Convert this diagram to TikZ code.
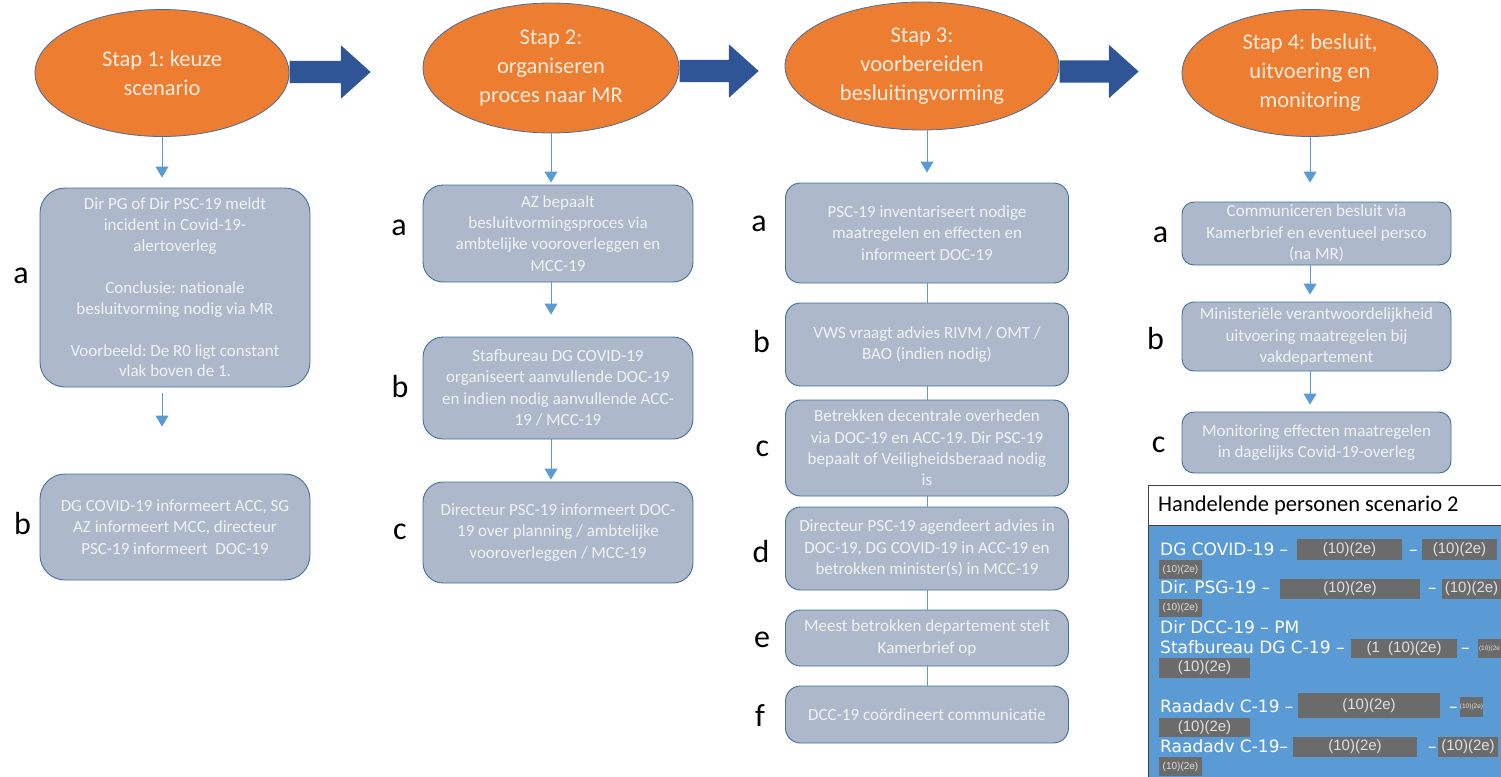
\documentclass[tikz,border=0pt]{standalone}
\usepackage{fontspec}
\setmainfont{Carlito}
\newfontfamily\panelfont{DejaVu Sans}
\newfontfamily\redactfont{Liberation Sans}
\usetikzlibrary{shapes.geometric,shapes.arrows,arrows.meta}
\definecolor{stapfill}{HTML}{ED7D31}
\definecolor{stapedge}{HTML}{4A6E96}
\definecolor{staptext}{HTML}{FDEBDD}
\definecolor{boxfill}{HTML}{ADB9CA}
\definecolor{boxedge}{HTML}{41719C}
\definecolor{boxtext}{HTML}{F0F3F8}
\definecolor{conncol}{HTML}{5B9BD5}
\definecolor{bigarrow}{HTML}{2F5597}
\definecolor{panelblue}{HTML}{5B9BD5}
\definecolor{redact}{HTML}{6B6B6B}
\frenchspacing

\begin{document}
\begin{tikzpicture}[x=1pt,y=-1pt,
  stap/.style={draw=stapedge,line width=0.8pt,fill=stapfill,ellipse,inner sep=0pt,align=center,text=staptext,font=\fontsize{22.5}{29}\selectfont},
  stepbox/.style={draw=boxedge,line width=0.9pt,fill=boxfill,rounded corners=15pt,inner sep=0pt,align=center,text=boxtext,font=\fontsize{17}{21.3}\selectfont},
  lbl/.style={inner sep=0pt,font=\fontsize{32}{32}\selectfont},
  conn/.style={draw=conncol,line width=0.9pt,-{Triangle[width=13pt,length=11pt]}},
  link/.style={draw=conncol,line width=0.9pt},
  bigarr/.style={single arrow,fill=bigarrow,inner xsep=0pt,inner ysep=11pt,single arrow head extend=15.5pt,single arrow tip angle=84,anchor=tail},
  redbox/.style={fill=redact,inner sep=0pt,text=white!88!black,font=\redactfont\fontsize{15}{15}\selectfont},
  redsmall/.style={redbox,font=\redactfont\fontsize{10}{10}\selectfont},
  redtiny/.style={redbox,font=\redactfont\fontsize{6.5}{6.5}\selectfont},
  ptext/.style={anchor=base west,inner sep=0pt,text=white,font=\panelfont\fontsize{17}{17}\selectfont}]

\useasboundingbox (0,0) rectangle (1501,776);
\clip (0,0) rectangle (1501,776);

\node[stap,minimum width=254pt,minimum height=127pt] (s1) at (162,73) {Stap 1: keuze\\scenario};
\node[stap,minimum width=256pt,minimum height=130pt] (s2) at (551,68) {Stap 2:\\organiseren\\proces naar MR};
\node[stap,minimum width=274pt,minimum height=128pt] (s3) at (922,66) {Stap 3:\\voorbereiden\\besluitingvorming};
\node[stap,minimum width=256pt,minimum height=127pt] (s4) at (1310,73) {Stap 4: besluit,\\uitvoering en\\monitoring};

\node[bigarr,minimum height=81pt] (ar1) at (s1.east |- 0,72) {};
\node[bigarr,minimum height=79pt] (ar2) at (s2.east |- 0,71) {};
\node[bigarr,minimum height=79pt] (ar3) at (s3.east |- 0,71.5) {};

\node[stepbox,rounded corners=25pt,minimum width=270pt,minimum height=199pt,font=\fontsize{17}{20.9}\selectfont] (s1a) at (175,287.5) {Dir PG of Dir PSC-19 meldt\\incident in Covid-19-\\alertoverleg\\[20.9pt]Conclusie: nationale\\besluitvorming nodig via MR\\[20.9pt]Voorbeeld: De R0 ligt constant\\vlak boven de 1.};
\node[stepbox,rounded corners=25pt,minimum width=270pt,minimum height=106pt] (s1b) at (175,527) {DG COVID-19 informeert ACC, SG\\AZ informeert MCC, directeur\\PSC-19 informeert\ \ DOC-19};

\node[stepbox,rounded corners=20pt,minimum width=270pt,minimum height=97pt] (s2a) at (558,233.5) {AZ bepaalt\\besluitvormingsproces via\\ambtelijke vooroverleggen en\\MCC-19};
\node[stepbox,rounded corners=20pt,minimum width=270pt,minimum height=102pt] (s2b) at (558,388) {Stafbureau DG COVID-19\\organiseert aanvullende DOC-19\\en indien nodig aanvullende ACC-\\19 / MCC-19};
\node[stepbox,rounded corners=20pt,minimum width=270pt,minimum height=101pt] (s2c) at (558,532.5) {Directeur PSC-19 informeert DOC-\\19 over planning / ambtelijke\\vooroverleggen / MCC-19};

\node[stepbox,minimum width=283pt,minimum height=100pt] (s3a) at (927,233) {PSC-19 inventariseert nodige\\maatregelen en effecten en\\informeert DOC-19};
\node[stepbox,minimum width=283pt,minimum height=83pt] (s3b) at (927,344.5) {VWS vraagt advies RIVM / OMT /\\BAO (indien nodig)};
\node[stepbox,minimum width=283pt,minimum height=96pt] (s3c) at (927,448) {Betrekken decentrale overheden\\via DOC-19 en ACC-19. Dir PSC-19\\bepaalt of Veiligheidsberaad nodig\\is};
\node[stepbox,minimum width=283pt,minimum height=83pt] (s3d) at (927,548.5) {Directeur PSC-19 agendeert advies in\\DOC-19, DG COVID-19 in ACC-19 en\\betrokken minister(s) in MCC-19};
\node[stepbox,minimum width=283pt,minimum height=56pt] (s3e) at (927,638) {Meest betrokken departement stelt\\Kamerbrief op};
\node[stepbox,minimum width=283pt,minimum height=57pt] (s3f) at (927,714.5) {DCC-19 coördineert communicatie};

\node[stepbox,rounded corners=12pt,minimum width=269pt,minimum height=63pt] (s4a) at (1316.5,233.5) {Communiceren besluit via\\Kamerbrief en eventueel persco\\(na MR)};
\node[stepbox,rounded corners=12pt,minimum width=269pt,minimum height=69pt] (s4b) at (1316.5,336.5) {Ministeriële verantwoordelijkheid\\uitvoering maatregelen bij\\vakdepartement};
\node[stepbox,rounded corners=12pt,minimum width=269pt,minimum height=61pt] (s4c) at (1316.5,442.5) {Monitoring effecten maatregelen\\in dagelijks Covid-19-overleg};

\draw[conn,shorten >=10pt] (s1) -- (s1a.north -| s1);
\draw[conn,shorten <=6pt,shorten >=47pt] (s1a.south -| s1) -- (s1b.north -| s1);
\draw[conn,shorten >=2pt] (s2) -- (s2a.north -| s2);
\draw[conn,shorten >=22pt] (s2a.south -| s2) -- (s2b.north -| s2);
\draw[conn,shorten >=2pt] (s2b.south -| s2) -- (s2c.north -| s2);
\draw[conn,shorten >=10pt] (s3.south -| s3a) -- (s3a);
\draw[link] (s3a) -- (s3b);
\draw[link] (s3b) -- (s3c);
\draw[link] (s3c) -- (s3d);
\draw[link] (s3d) -- (s3e);
\draw[link] (s3e) -- (s3f);
\draw[conn,shorten >=19pt] (s4) -- (s4a.north -| s4);
\draw[conn,shorten >=7pt] (s4a.south -| s4) -- (s4b.north -| s4);
\draw[conn,shorten >=7pt] (s4b.south -| s4) -- (s4c.north -| s4);

\node[lbl] (l1a) at (21,275.5) {a};
\node[lbl] (l1b) at (22.5,523) {b};
\node[lbl] (l2a) at (399,227.5) {a};
\node[lbl] (l2b) at (400,386) {b};
\node[lbl] (l2c) at (400,531.5) {c};
\node[lbl] (l3a) at (759,224) {a};
\node[lbl] (l3b) at (761.5,341) {b};
\node[lbl] (l3c) at (762.5,448.5) {c};
\node[lbl] (l3d) at (761,551) {d};
\node[lbl] (l3e) at (762,640) {e};
\node[lbl] (l3f) at (760,716) {f};
\node[lbl] (l4a) at (1160.5,234.5) {a};
\node[lbl] (l4b) at (1155.5,338) {b};
\node[lbl] (l4c) at (1158.5,444.5) {c};

\node[draw=black!75,line width=0.9pt,fill=panelblue,minimum width=370pt,minimum height=270pt,anchor=north west,inner sep=0pt] (panel) at (1148,525) {};
\node[draw=black!75,line width=0.9pt,fill=white,minimum width=370pt,minimum height=40pt,anchor=north west,inner sep=0pt] (phead) at (1148,485) {};
\node[anchor=west,inner sep=0pt,font=\fontsize{22.5}{22.5}\selectfont] (ptitle) at (1158,505) {Handelende personen scenario 2};

\node[ptext] (p1) at (1160,555) {DG COVID-19 –};
\node[redbox,minimum width=105pt,minimum height=21pt] (r1) at (1349.5,549.5) {(10)(2e)};
\node[ptext] (p1d) at (1409,555) {–};
\node[redbox,minimum width=75pt,minimum height=21pt] (r2) at (1459.5,549.5) {(10)(2e)};
\node[redsmall,minimum width=43pt,minimum height=19pt] (r3) at (1180.5,569.5) {(10)(2e)};

\node[ptext] (p2) at (1160,593) {Dir. PSG-19 –};
\node[redbox,minimum width=140pt,minimum height=20pt] (r4) at (1350,589) {(10)(2e)};
\node[ptext] (p2d) at (1428,593) {–};
\node[redbox,minimum width=59pt,minimum height=20pt] (r5) at (1471.5,589) {(10)(2e)};
\node[redsmall,minimum width=43pt,minimum height=18pt] (r6) at (1180.5,608) {(10)(2e)};

\node[ptext] (p3) at (1160,633) {Dir DCC-19 – PM};

\node[ptext] (p4) at (1160,653) {Stafbureau DG C-19 –};
\node[redbox,minimum width=106pt,minimum height=19pt] (r7) at (1404,648.5) {(1\ \ (10)(2e)};
\node[ptext] (p4d) at (1461,653) {–};
\node[redtiny,minimum width=23pt,minimum height=19pt] (r8) at (1489.5,648.5) {(10)(2e};
\node[redbox,minimum width=91pt,minimum height=20pt] (r9) at (1204.5,668) {(10)(2e)};

\node[ptext] (p5) at (1160,712) {Raadadv C-19 –};
\node[redbox,minimum width=142pt,minimum height=25pt] (r10) at (1369,705.5) {(10)(2e)};
\node[ptext] (p5d) at (1449,712) {–};
\node[redtiny,minimum width=21pt,minimum height=20pt] (r11) at (1471.5,707) {(10)(2e)};
\node[redbox,minimum width=91pt,minimum height=19pt] (r12) at (1204.5,727.5) {(10)(2e)};

\node[ptext] (p6) at (1160,752) {Raadadv C-19–};
\node[redbox,minimum width=124pt,minimum height=20pt] (r13) at (1355,747) {(10)(2e)};
\node[ptext] (p6d) at (1428,752) {–};
\node[redbox,minimum width=60pt,minimum height=20pt] (r14) at (1468,747) {(10)(2e)};
\node[redsmall,minimum width=43pt,minimum height=19pt] (r15) at (1180.5,766.5) {(10)(2e)};
\end{tikzpicture}
\end{document}
